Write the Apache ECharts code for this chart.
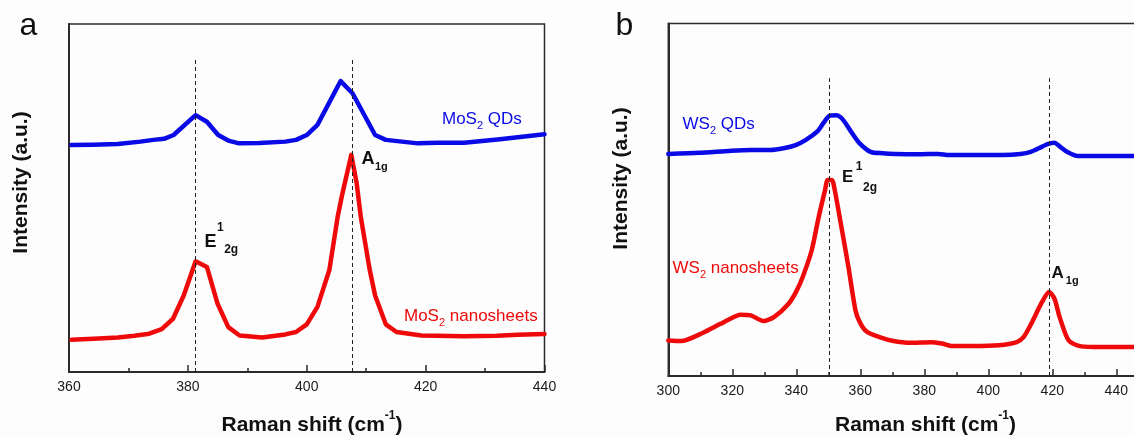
<!DOCTYPE html>
<html>
<head>
<meta charset="utf-8">
<script src="https://cdn.jsdelivr.net/npm/echarts@6/dist/echarts.min.js"></script>
<style>
    html, body { margin: 0; padding: 0; background: #fdfdfd; overflow: hidden; }
    #chart { width: 1134px; height: 437px; }
</style>
</head>
<body>
<div id="chart"></div>
<script>
// Raman spectra, intensity in arbitrary units (0-100 per panel)

// panel a - MoS2
const moQdShift = [360.4, 364, 368.2, 372, 374.2, 376.0, 377.6, 381.3, 383.2, 385.1, 386.8, 388.6, 392, 396.4, 398.2, 400.0, 401.8, 405.7, 407.7, 411.5, 413.3, 418.7, 422, 426.5, 432.5, 440];
const moQdInt = [65.2, 65.3, 65.5, 66.2, 66.7, 67.0, 68.1, 73.8, 71.9, 68.1, 66.5, 65.7, 65.8, 66.2, 66.7, 68.1, 71.0, 83.6, 80.1, 68.1, 66.7, 65.7, 65.9, 65.9, 66.9, 68.3];

const moNsShift = [360.4, 365, 368.2, 371, 373.5, 375.6, 377.5, 379.3, 381.3, 383.2, 385.0, 386.8, 388.7, 392.5, 396.4, 398.2, 400.0, 401.8, 403.8, 405.2, 406.0, 407.5, 408.4, 409.1, 410.6, 411.5, 413.3, 415.1, 419.3, 426.5, 432, 435.5, 440];
const moNsInt = [9.3, 9.6, 9.9, 10.4, 11.0, 12.3, 15.3, 22.0, 31.8, 30.2, 19.6, 12.9, 10.5, 9.9, 10.8, 11.5, 13.7, 18.7, 29.3, 44.6, 51.3, 62.4, 54.2, 44.5, 29.3, 22.0, 13.7, 11.5, 10.5, 10.3, 10.4, 10.7, 10.9];

// panel b - WS2
const wQdShift = [300, 309.7, 319.7, 326, 332.0, 336, 339.8, 343, 346.5, 348.5, 350.4, 352.6, 354, 355.4, 357.5, 359.8, 363.2, 367, 371.0, 378, 384.4, 387.7, 396, 404.5, 410, 413.3, 416.7, 418.5, 420.6, 422.5, 424.6, 427.9, 435, 445.6, 450];
const wQdInt = [63.0, 63.3, 63.9, 64.1, 64.1, 64.6, 65.5, 67.0, 69.3, 71.8, 73.8, 74.0, 73.3, 71.7, 68.8, 66.0, 63.6, 63.2, 63.0, 62.9, 63.0, 62.7, 62.7, 62.7, 63.0, 63.6, 65.0, 65.8, 66.2, 65.0, 63.6, 62.4, 62.4, 62.4, 62.4];

const wNsShift = [300, 304.0, 310.7, 316.3, 320, 322.4, 325.8, 329.7, 333.0, 337.6, 340, 342.0, 344.8, 347.0, 349.0, 349.8, 351.1, 352.0, 353.7, 356.3, 358.5, 360, 362.1, 366.5, 370, 375.5, 382.1, 385.5, 388.8, 395, 403.3, 408.9, 411, 413.4, 416.8, 419.0, 420.7, 422.3, 425.1, 429.0, 435, 445.6, 450];
const wNsInt = [10.1, 9.9, 12.2, 14.8, 16.5, 17.4, 17.2, 15.6, 16.7, 20.5, 24, 28.1, 35.6, 45.1, 52.8, 55.6, 55.6, 52.8, 44.3, 30.9, 18.6, 15, 12.5, 10.9, 10, 9.4, 9.6, 9.2, 8.5, 8.5, 8.7, 9.6, 11, 14.8, 21.0, 23.8, 21.9, 16.7, 10.1, 8.4, 8.2, 8.2, 8.2];

// peak positions (dashed guides)
const peakA = [381.3, 407.6];
const peakB = [350.4, 418.9];

const FONT = 'Arial, "Liberation Sans", sans-serif';
const BLUE = '#0a0ae6';
const RED = '#ee0a0a';
const INK = '#2b2b2b';

const zip = (xs, ys) => xs.map((x, i) => [x, ys[i]]);
const measureCtx = document.createElement('canvas').getContext('2d');

// text made of pieces (sub / superscripts); x = left edge, y = baseline
function richLabel(x, y, parts, color, weight) {
    return parts.map(p => {
        const font = `${weight} ${p.size}px ${FONT}`;
        x += p.dx || 0;
        const el = {
            type: 'text',
            x: x,
            y: y + (p.dy || 0) - p.size * 0.3465,
            silent: true,
            style: {
                text: p.t, font: font, fill: color,
                align: 'left', verticalAlign: 'middle',
                textAlign: 'left', textVerticalAlign: 'middle'
            }
        };
        measureCtx.font = font;
        x += measureCtx.measureText(p.t).width;
        return el;
    });
}

function yTitle(x, y) {
    return {
        type: 'text', x: x, y: y, rotation: Math.PI / 2, silent: true,
        style: {
            text: 'Intensity (a.u.)', font: `bold 21px ${FONT}`, fill: '#111',
            align: 'center', verticalAlign: 'middle',
            textAlign: 'center', textVerticalAlign: 'middle'
        }
    };
}

function xTitle(x) {
    return richLabel(x, 432, [
        { t: 'Raman shift (cm', size: 21 },
        { t: '-1', size: 12, dy: -12 },
        { t: ')', size: 21 }
    ], '#111', 'bold');
}

function majorAxis(grid, min, max) {
    return {
        type: 'value', gridIndex: grid, min: min, max: max, interval: 20, position: 'bottom',
        axisLine: { show: true, onZero: false, lineStyle: { color: INK, width: 2 } },
        axisTick: { show: true, inside: true, length: 7, lineStyle: { color: INK, width: 1.5 } },
        axisLabel: { fontFamily: FONT, fontSize: 14, color: '#1a1a1a', margin: 8 },
        splitLine: { show: false }
    };
}

function minorAxis(grid, min, max) {
    return {
        type: 'value', gridIndex: grid, min: min, max: max, interval: 10, position: 'bottom',
        axisLine: { show: false },
        axisTick: { show: true, inside: true, length: 4, lineStyle: { color: INK, width: 1.5 } },
        axisLabel: { show: false },
        splitLine: { show: false }
    };
}

function yAxisFor(grid) {
    return {
        type: 'value', gridIndex: grid, min: 0, max: 100,
        axisLine: { show: true, lineStyle: { color: INK, width: 2 } },
        axisTick: { show: false },
        axisLabel: { show: false },
        splitLine: { show: false }
    };
}

function spectrum(xAxisIndex, yAxisIndex, data, color) {
    return {
        type: 'line', xAxisIndex: xAxisIndex, yAxisIndex: yAxisIndex,
        data: data, symbol: 'none', smooth: xAxisIndex === 2 ? 0.25 : false,
        lineStyle: { color: color, width: 4.5, join: 'round', cap: 'round' },
        z: 3
    };
}

function guides(peaks, top) {
    return {
        silent: true, symbol: ['none', 'none'], label: { show: false },
        lineStyle: { type: [4, 3], color: '#222', width: 1 },
        data: peaks.map(x => [{ coord: [x, 0] }, { coord: [x, top] }])
    };
}

const chart = echarts.init(document.getElementById('chart'));

const seriesA2 = spectrum(0, 0, zip(moNsShift, moNsInt), RED);
seriesA2.markLine = guides(peakA, 90.5);
const seriesB2 = spectrum(2, 1, zip(wNsShift, wNsInt), RED);
seriesB2.markLine = guides(peakB, 84.5);

chart.setOption({
    animation: false,
    backgroundColor: '#fdfdfd',
    grid: [
        { left: 69, top: 24, width: 475.5, height: 348, show: true, borderColor: INK, borderWidth: 1.5, outerBoundsMode: 'none', containLabel: false },
        { left: 668.3, top: 23.5, width: 480, height: 352.5, show: true, borderColor: INK, borderWidth: 1.5, outerBoundsMode: 'none', containLabel: false }
    ],
    xAxis: [
        majorAxis(0, 360, 440),
        minorAxis(0, 360, 440),
        majorAxis(1, 300, 450),
        minorAxis(1, 300, 450)
    ],
    yAxis: [yAxisFor(0), yAxisFor(1)],
    series: [
        spectrum(0, 0, zip(moQdShift, moQdInt), BLUE),
        seriesA2,
        spectrum(2, 1, zip(wQdShift, wQdInt), BLUE),
        seriesB2
    ],
    graphic: [
        ...richLabel(19.5, 37.7, [{ t: 'a', size: 32 }], '#111', 'normal'),
        ...richLabel(615.5, 37.7, [{ t: 'b', size: 32 }], '#111', 'normal'),
        yTitle(21, 182.5),
        yTitle(621, 178.5),
        ...xTitle(221.5),
        ...xTitle(835),
        // panel a labels
        ...richLabel(442, 125, [{ t: 'MoS', size: 17 }, { t: '2', size: 11, dy: 5 }, { t: ' QDs', size: 17 }], BLUE, 'normal'),
        ...richLabel(404, 322, [{ t: 'MoS', size: 17 }, { t: '2', size: 11, dy: 5 }, { t: ' nanosheets', size: 17 }], RED, 'normal'),
        ...richLabel(361.5, 165, [{ t: 'A', size: 18 }, { t: '1g', size: 11, dy: 6, dx: 0.5 }], '#111', 'bold'),
        ...richLabel(204.5, 248, [{ t: 'E', size: 18 }, { t: '1', size: 12, dy: -16, dx: 0.5 }, { t: '2g', size: 12, dy: 6, dx: 0.5 }], '#111', 'bold'),
        // panel b labels
        ...richLabel(682.5, 130, [{ t: 'WS', size: 17 }, { t: '2', size: 11, dy: 5 }, { t: ' QDs', size: 17 }], BLUE, 'normal'),
        ...richLabel(672.5, 274, [{ t: 'WS', size: 17 }, { t: '2', size: 11, dy: 5 }, { t: ' nanosheets', size: 17 }], RED, 'normal'),
        ...richLabel(842, 183.3, [{ t: 'E', size: 17 }, { t: '1', size: 12, dy: -12, dx: 2.5 }, { t: '2g', size: 12, dy: 9, dx: 0.5 }], '#111', 'bold'),
        ...richLabel(1051.5, 279, [{ t: 'A', size: 17 }, { t: '1g', size: 11, dy: 6, dx: 2 }], '#111', 'bold')
    ]
});

window.addEventListener('resize', () => chart.resize());
</script>
</body>
</html>
